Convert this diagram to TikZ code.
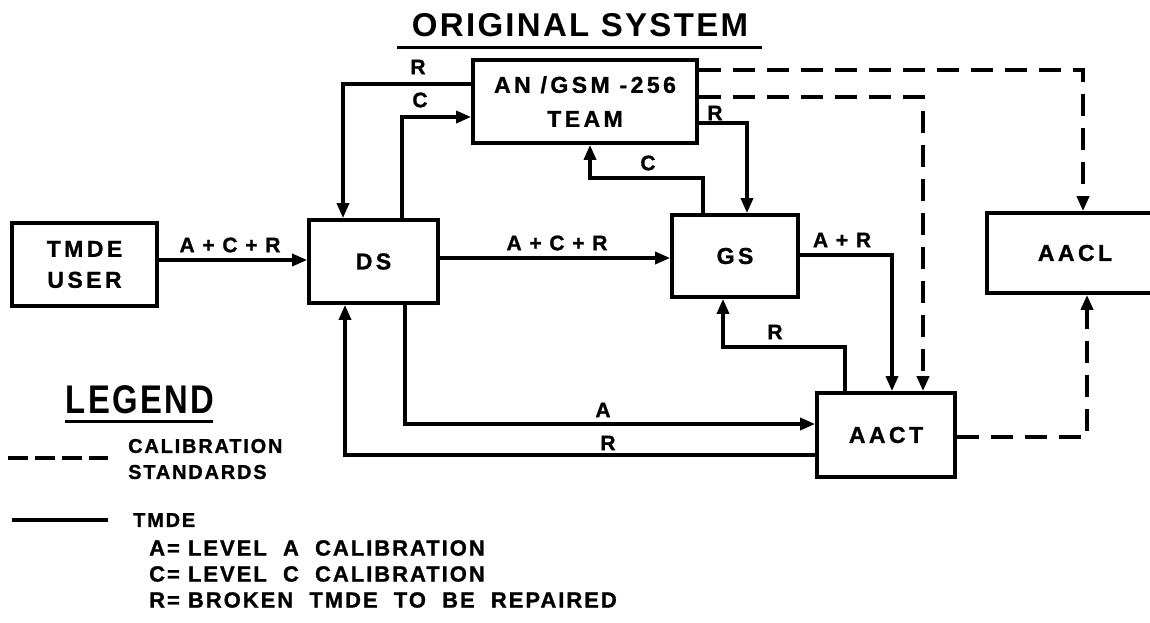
\documentclass[tikz,border=0pt]{standalone}
\usepackage{fontspec}
\setmainfont{Liberation Sans}
\newfontfamily\labfont[LetterSpace=9,FakeBold=1.2]{Liberation Sans}
\newfontfamily\boxfont[LetterSpace=15,FakeBold=1.2]{Liberation Sans}
\newfontfamily\ttlfont[LetterSpace=7]{Liberation Sans}
\newfontfamily\legfont[FakeStretch=0.82,LetterSpace=6]{Liberation Sans}
\usetikzlibrary{arrows.meta}
\begin{document}
\begin{tikzpicture}[x=1pt,y=-1pt,
  box/.style={draw, line width=3.8pt, align=center, inner sep=0pt,
    font=\boxfont\bfseries\fontsize{23}{28}\selectfont},
  lbl/.style={inner sep=0pt, font=\labfont\bfseries\fontsize{21}{24}\selectfont},
  legtxt/.style={inner sep=0pt, anchor=west, align=left,
    font=\labfont\bfseries\fontsize{20}{26}\selectfont},
  legtxtb/.style={inner sep=0pt, anchor=west, align=left,
    font=\labfont\bfseries\fontsize{22}{26}\selectfont},
  flow/.style={line width=3.4pt, -{Triangle[length=15pt,width=12pt]}},
  plainline/.style={line width=3.4pt},
  std/.style={line width=3.8pt, dash pattern=on 22pt off 12pt},
  stdflow/.style={std, -{Triangle[length=15pt,width=12pt]}},
  rule/.style={line width=3pt}
]
\useasboundingbox (0,0) rectangle (1150,622);
\clip (0,0) rectangle (1150,622);

% title
\node[inner sep=0pt, font=\ttlfont\bfseries\fontsize{33}{36}\selectfont] (title) at (580,25) {ORIGINAL SYSTEM};
\coordinate (tulA) at (397,47);
\coordinate (tulB) at (762,47);
\draw[rule] (tulA) -- (tulB);

% boxes
\node[box, minimum width=145pt, minimum height=83pt] (user) at (84.5,264.5) {TMDE\\[3pt]USER};
\node[box, minimum width=129pt, minimum height=83pt] (ds) at (373.5,261.5) {DS};
\node[box, minimum width=224pt, minimum height=83pt] (team) at (585,101.5) {AN /GSM -256\\[6pt]TEAM};
\node[box, minimum width=126pt, minimum height=82pt] (gs) at (735,256) {GS};
\node[box, minimum width=138pt, minimum height=84pt] (aact) at (886,435) {AACT};
\node[box, minimum width=176pt, minimum height=80pt] (aacl) at (1075,253) {AACL};

% TMDE user -> DS
\draw[flow] (user.east |- 0,260) -- (ds.west |- 0,260);
\node[lbl] (l1) at (230,245) {A + C + R};

% DS -> GS
\draw[flow] (ds.east |- 0,258) -- (gs.west |- 0,258);
\node[lbl] (l2) at (557,243) {A + C + R};

% Team -> DS  (R)
\draw[flow] (team.west |- 0,84) -| (ds.north -| 343,0);
\node[lbl] (l3) at (418,67) {R};
% DS -> Team (C)
\draw[flow] (ds.north -| 402,0) |- (team.west |- 0,117);
\node[lbl] (l4) at (420,100) {C};

% Team -> GS (R)
\draw[flow] (team.east |- 0,123) -| (gs.north -| 747,0);
\node[lbl] (l5) at (715,113) {R};
% GS -> Team (C)
\draw[flow] (gs.north -| 703,0) |- (590,178) -- (team.south -| 590,0);
\node[lbl] (l6) at (648,163) {C};

% GS -> AACT (A+R)
\draw[flow] (gs.east |- 0,255) -| (aact.north -| 892,0);
\node[lbl] (l7) at (842,240) {A + R};
% AACT -> GS (R)
\draw[flow] (aact.north -| 845,0) |- (723,347) -- (gs.south -| 723,0);
\node[lbl] (l8) at (775,332) {R};

% DS -> AACT (A)
\draw[flow] (ds.south -| 405,0) |- (aact.west |- 0,424);
\node[lbl] (l9) at (603,410) {A};
% AACT -> DS (R)
\draw[flow] (aact.west |- 0,455) -| (ds.south -| 345,0);
\node[lbl] (l10) at (608,443) {R};

% calibration standards (dashed)
\draw[stdflow] (team.east |- 0,70) -| (aacl.north -| 1083,0);
\draw[stdflow] (team.east |- 0,97) -| (aact.north -| 923,0);
\draw[stdflow] (aact.east |- 0,437) -| (aacl.south -| 1087,0);

% legend
\node[inner sep=0pt, font=\legfont\bfseries\fontsize{40}{42}\selectfont] (legend) at (140,400) {LEGEND};
\coordinate (lulA) at (65,421);
\coordinate (lulB) at (213,421);
\draw[rule] (lulA) -- (lulB);

\coordinate (ldA) at (8,458);
\coordinate (ldB) at (108,458);
\draw[line width=3.8pt, dash pattern=on 20pt off 7pt] (ldA) -- (ldB);
\node[legtxt] (ltx1) at (128,459) {CALIBRATION\\STANDARDS};

\coordinate (lsA) at (12,520);
\coordinate (lsB) at (108,520);
\draw[plainline] (lsA) -- (lsB);
\node[legtxt] (ltx2) at (133,520) {TMDE};

\node[legtxtb] (ltx3) at (149,548) {A= LEVEL\ \ A\ \ CALIBRATION};
\node[legtxtb] (ltx4) at (149,574) {C= LEVEL\ \ C\ \ CALIBRATION};
\node[legtxtb] (ltx5) at (149,600) {R= BROKEN\ \ TMDE\ \ TO\ \ BE\ \ REPAIRED};
\end{tikzpicture}
\end{document}
